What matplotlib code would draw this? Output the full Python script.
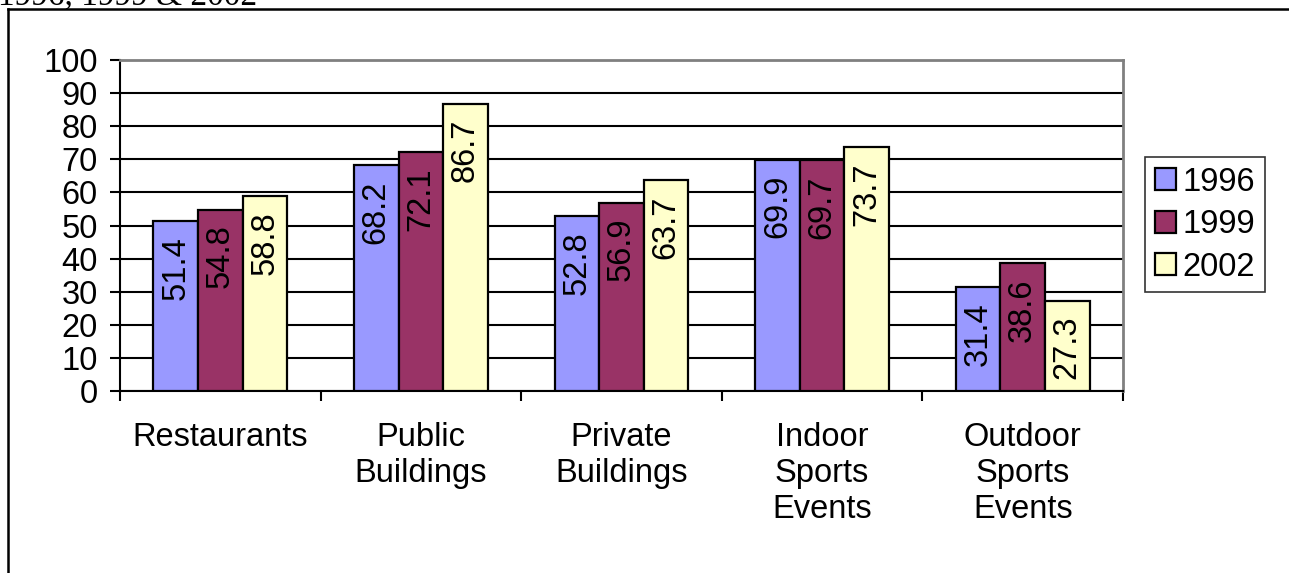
import numpy as np
import matplotlib.pyplot as plt
from matplotlib.lines import Line2D

plt.rcParams['font.family'] = ['Liberation Sans', 'DejaVu Sans']

categories = ['Restaurants', 'Public\nBuildings', 'Private\nBuildings',
              'Indoor\nSports\nEvents', 'Outdoor\nSports\nEvents']
years = ['1996', '1999', '2002']
vals_1996 = [51.4, 68.2, 52.8, 69.9, 31.4]
vals_1999 = [54.8, 72.1, 56.9, 69.7, 38.6]
vals_2002 = [58.8, 86.7, 63.7, 73.7, 27.3]
yticks = [0, 10, 20, 30, 40, 50, 60, 70, 80, 90, 100]

colors = ['#9999FF', '#993366', '#FFFFCC']
FS = 23.5

W, H = 1289, 573
fig = plt.figure(figsize=(W / 100, H / 100), dpi=100)
ax = fig.add_axes([120 / W, 1 - 391 / H, (1123 - 120) / W, (391 - 60) / H])

x = np.arange(len(categories))
bw = 1 / 4.5
series = [vals_1996, vals_1999, vals_2002]
for i, (yr, vals, col) in enumerate(zip(years, series, colors)):
    pos = x + (i - 1) * bw
    ax.bar(pos, vals, width=bw, color=col, edgecolor='black',
           linewidth=1.6, label=yr, zorder=3)
    for px, v in zip(pos, vals):
        ax.annotate(f'{v}', (px, v), xytext=(0, -15), textcoords='offset pixels',
                    rotation=90, ha='center', va='top', fontsize=FS, zorder=4)

ax.set_xlim(-0.5, len(categories) - 0.5)
ax.set_ylim(0, 100)
ax.set_yticks(yticks)
ax.tick_params(axis='y', labelsize=FS, length=7, width=1.5, pad=9)
ax.set_xticks(np.arange(len(categories) + 1) - 0.5)
ax.set_xticklabels([])
ax.set_xticks(x, minor=True)
ax.set_xticklabels(categories, minor=True, fontsize=FS, linespacing=1.22)
ax.tick_params(axis='x', which='major', length=7, width=1.5)
ax.tick_params(axis='x', which='minor', length=0, pad=22)

ax.yaxis.grid(True, color='black', linewidth=1.5, zorder=0)
ax.set_axisbelow(True)
for side in ['left', 'bottom']:
    ax.spines[side].set_color('black')
    ax.spines[side].set_linewidth(1.5)
for side in ['top', 'right']:
    ax.spines[side].set_color('#808080')
    ax.spines[side].set_linewidth(2)

leg = ax.legend(loc='upper left', bbox_to_anchor=(1145 / W, 1 - 157 / H),
                bbox_transform=fig.transFigure, fontsize=FS, frameon=True,
                fancybox=False, edgecolor='black', handlelength=0.65,
                handleheight=0.65, handletextpad=0.2, labelspacing=0.35,
                borderpad=0.3, borderaxespad=0)
leg.get_frame().set_linewidth(1.2)

# outer chart border
fig.add_artist(Line2D([8 / W, 1], [1 - 9 / H, 1 - 9 / H], color='black', linewidth=1.8))
fig.add_artist(Line2D([8 / W, 8 / W], [0, 1 - 9 / H], color='black', linewidth=1.8))

fig.text(-2 / W, 1 - 4 / H, '1996, 1999 & 2002', family='Liberation Serif',
         fontsize=24, ha='left', va='baseline')

fig.savefig('out.png', dpi=100)
